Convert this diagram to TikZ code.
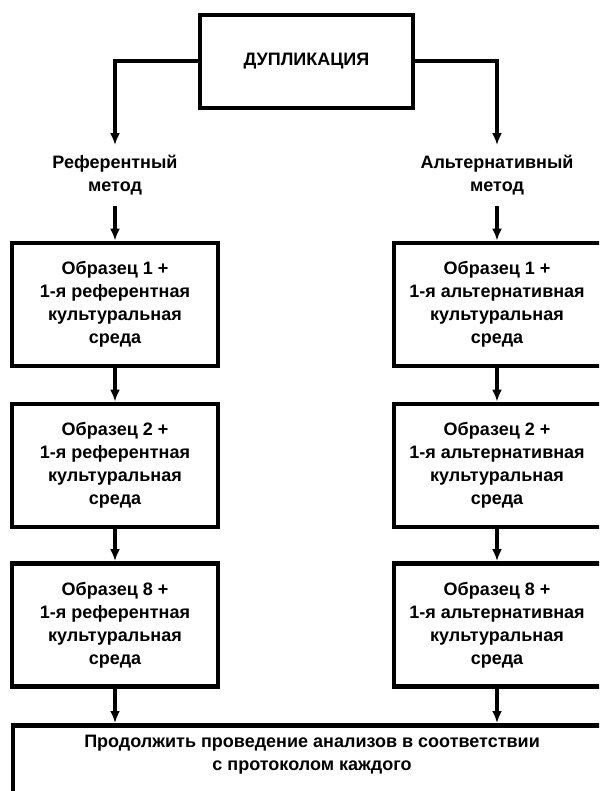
\documentclass[tikz,border=0pt]{standalone}
\usepackage{fontspec}
\setmainfont{Liberation Sans}
\usetikzlibrary{arrows.meta}
\usetikzlibrary{positioning}
\tikzset{
  box/.style={draw, line width=2.4pt, minimum width=103pt, minimum height=61.5pt, align=center, inner sep=0pt},
  conn/.style={line width=2pt},
  arr/.style={conn, -{Latex[length=6pt,width=5pt]}},
  lbl/.style={align=center, inner sep=5pt}
}
\newcommand{\txt}{\fontsize{9}{11.5}\selectfont\bfseries}
\newcommand{\lft}{\hspace*{-5pt}}

\begin{document}
\begin{tikzpicture}[x=0.5pt, y=-0.5pt, font=\txt]
      \clip (0,0) rectangle (599,791);
      \node[box, minimum width=106.5pt, minimum height=46.5pt] (dup) at (306.5,61.5) {ДУПЛИКАЦИЯ};
      \node[lbl] (ref) at (115,175.5) {Референтный\\метод};
      \node[lbl] (alt) at (497,175.5) {Альтернативный\\метод};
      \draw[arr] (dup.west) -| (ref.north);
      \draw[arr] (dup.east) -| (alt.north);
      \foreach \i/\n/\y in {1/1/304.5, 2/2/465.5, 3/8/625} {
        \node[box] (ref\i) at (115,\y) {Образец \n\ +\\1-я референтная\\культуральная\\среда};
        \node[box, minimum width=108pt] (alt\i) at (502,\y) {\lft Образец \n\ +\\\lft 1-я альтернативная\\\lft культуральная\\\lft среда};
      }
      \draw[arr] (ref) -- (ref1);
      \draw[arr] (alt) -- (alt |- alt1.north);
      \foreach \a/\b in {1/2, 2/3} {
        \draw[arr] (ref\a) -- (ref\b);
        \draw[arr] (alt |- alt\a.south) -- (alt |- alt\b.north);
      }
      \node[box, anchor=north, minimum width=299pt, minimum height=60pt] (final) at (312,723) {};
      \node[align=center] (fin) at (312,754.5) {Продолжить проведение анализов в соответствии\\с протоколом каждого};
      \draw[arr] (ref3) -- (ref3 |- final.north);
      \draw[arr] (alt |- alt3.south) -- (alt |- final.north);
  \end{tikzpicture}
\end{document}
